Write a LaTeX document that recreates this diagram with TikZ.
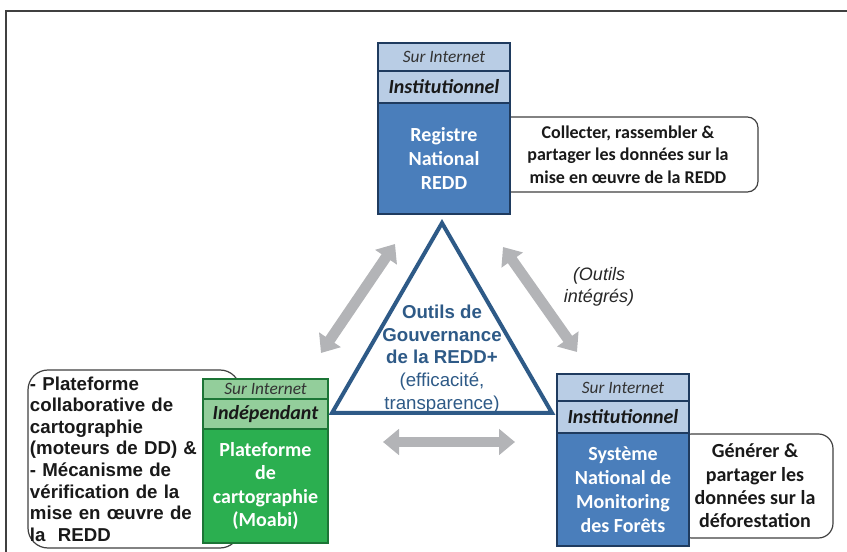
\documentclass[tikz,border=0pt]{standalone}
\usepackage{fontspec}
\setmainfont{Carlito}
\newfontfamily\arial{Liberation Sans}
\usetikzlibrary{arrows.meta}
\definecolor{lblue}{HTML}{B9CDE5}
\definecolor{dblue}{HTML}{4A7EBB}
\definecolor{bnavy}{HTML}{1F3B5F}
\definecolor{lgreen}{HTML}{93CE9B}
\definecolor{mgreen}{HTML}{2BAF50}
\definecolor{bgreen}{HTML}{1C7536}
\definecolor{tblue}{HTML}{2E5A87}
\definecolor{agray}{HTML}{B3B4B7}
\definecolor{cgray}{HTML}{404040}
\begin{document}
\begin{tikzpicture}[x=0.75pt,y=-0.75pt,
  brow/.style={draw=bnavy, line width=1.5pt, fill=lblue, minimum width=99pt, inner sep=0pt, anchor=north west},
  bmain/.style={brow, fill=dblue, text=white, align=center, font=\fontsize{15}{18}\selectfont\bfseries},
  grnrow/.style={draw=bgreen, line width=1.5pt, fill=lgreen, minimum width=93.75pt, inner sep=0pt, anchor=north west},
  grnmain/.style={grnrow, fill=mgreen, text=white, align=center, font=\fontsize{15}{17.5}\selectfont\bfseries},
  surint/.style={font=\fontsize{13}{15}\selectfont\itshape, text=black!80},
  inst/.style={font=\fontsize{15}{17}\selectfont\bfseries\itshape, text=black!90},
  callout/.style={draw=cgray, line width=0.9pt, fill=white, inner sep=0pt, align=center, text=black!90},
  garrow/.style={draw=agray, line width=8pt, {Triangle[width=19pt,length=12pt]}-{Triangle[width=19pt,length=12pt]}},
  tri/.style={draw=tblue, line width=3pt, line join=miter, fill=white}
]
\useasboundingbox (0,0) rectangle (847,552);
% frame
\draw[cgray, line width=0.9pt] (6,552) -- (6,11) -- (847,11);

% callouts (behind the boxes)
\node[callout, rounded corners=8pt, minimum width=195pt, minimum height=56.25pt,
      font=\fontsize{13.5}{17}\selectfont\bfseries] (tc) at (628,154.5)
  {Collecter, rassembler \&\\partager les données sur la\\mise en œuvre de la REDD};
\node[callout, rounded corners=11pt, minimum width=117pt, minimum height=78pt,
      font=\fontsize{15}{17.5}\selectfont\bfseries] (rc) at (755,486)
  {Générer \&\\partager les\\données sur la\\déforestation};
\node[callout, rounded corners=15pt, minimum width=159pt, minimum height=133.5pt,
      inner xsep=1.5pt, text width=156pt, align=left,
      font=\arial\fontsize{14}{16.2}\selectfont\bfseries] (lc) at (134,459)
  {- Plateforme\\collaborative de\\cartographie\\(moteurs de DD) \&\\- Mécanisme de\\vérification de la\\mise en œuvre de\\la\ \ REDD};

% top box
\node[brow, minimum height=21pt, surint] (t1) at (377,42) {Sur Internet};
\node[brow, minimum height=24pt, inst] (t2) at (377,70) {Institutionnel};
\node[bmain, minimum height=83.25pt] (t3) at (377,102) {Registre\\National\\REDD};

% right box
\node[brow, minimum height=20.25pt, surint] (r1) at (556,373) {Sur Internet};
\node[brow, minimum height=24pt, inst] (r2) at (556,400) {Institutionnel};
\node[bmain, minimum height=84.75pt] (r3) at (556,432) {Système\\National de\\Monitoring\\des Forêts};

% green box
\node[grnrow, minimum height=15pt, surint] (g1) at (202,378) {Sur Internet};
\node[grnrow, minimum height=22.5pt, inst] (g2) at (202,398) {Indépendant};
\node[grnmain, minimum height=85.5pt] (g3) at (202,428) {Plateforme\\de\\cartographie\\(Moabi)};

% triangle
\coordinate (apex) at (442,223);
\coordinate (bl) at (332,413);
\coordinate (br) at (552,413);
\draw[tri] (apex) -- (br) -- (bl) -- cycle;
\node[align=center, text=tblue, font=\arial\fontsize{14}{17}\selectfont] (tt) at (442,359)
  {\textbf{Outils de}\\\textbf{Gouvernance}\\\textbf{de la REDD+}\\(efficacité,\\transparence)};

% arrows
\coordinate (la1) at (321,353);
\coordinate (la2) at (395,244);
\coordinate (ra1) at (503,247);
\coordinate (ra2) at (577,352);
\coordinate (ba1) at (383,442);
\coordinate (ba2) at (515,442);
\draw[garrow] (la1) -- (la2);
\draw[garrow] (ra1) -- (ra2);
\draw[garrow] (ba1) -- (ba2);

\node[align=center, font=\arial\fontsize{13.5}{17}\selectfont\itshape, text=black!85] (oi) at (599,287)
  {(Outils\\intégrés)};
\end{tikzpicture}
\end{document}
